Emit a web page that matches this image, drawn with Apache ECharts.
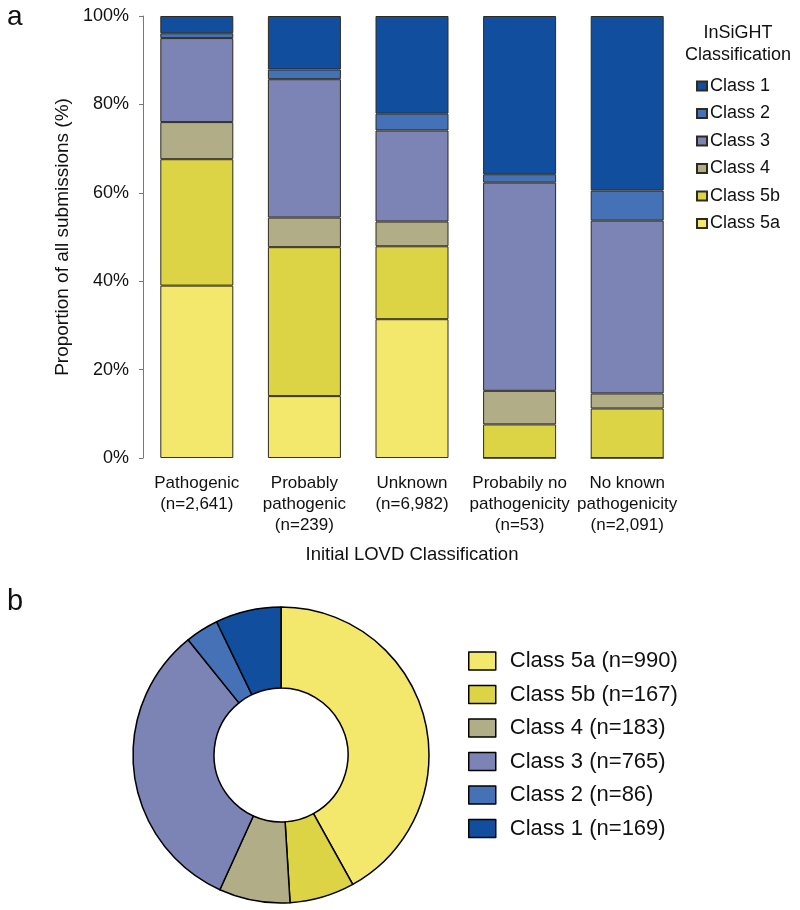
<!DOCTYPE html>
<html>
<head>
<meta charset="utf-8">
<script src="https://cdn.jsdelivr.net/npm/echarts@6/dist/echarts.min.js"></script>
<style>html,body{margin:0;padding:0;background:#fff}#c{width:800px;height:910px}</style>
</head>
<body>
<div id="c"></div>
<script>
var categories = ['Pathogenic\n(n=2,641)', 'Probably\npathogenic\n(n=239)', 'Unknown\n(n=6,982)', 'Probabily no\npathogenicity\n(n=53)', 'No known\npathogenicity\n(n=2,091)'];
var yTicks = [0, 20, 40, 60, 80, 100];
var class5a = [39.0, 14.0, 31.4, 0, 0];
var class5b = [28.6, 33.7, 16.5, 7.6, 11.2];
var class4  = [8.4, 6.7, 5.6, 7.6, 3.4];
var class3  = [19.0, 31.3, 20.6, 47.1, 39.1];
var class2  = [1.1, 2.2, 3.8, 1.9, 6.8];
var class1  = [3.9, 12.1, 22.1, 35.8, 39.5];
var seriesNames = ['Class 5a', 'Class 5b', 'Class 4', 'Class 3', 'Class 2', 'Class 1'];
var legendOrder = ['Class 1', 'Class 2', 'Class 3', 'Class 4', 'Class 5b', 'Class 5a'];
var pieClasses = ['Class 5a', 'Class 5b', 'Class 4', 'Class 3', 'Class 2', 'Class 1'];
var pieCounts = [990, 167, 183, 765, 86, 169];

var colors = {
  'Class 5a': '#f4e86c',
  'Class 5b': '#dcd444',
  'Class 4': '#b1ad87',
  'Class 3': '#7b84b5',
  'Class 2': '#4572b7',
  'Class 1': '#124e9e'
};
var FONT = '"Liberation Sans", Arial, Helvetica, sans-serif';
var barData = [class5a, class5b, class4, class3, class2, class1];

var series = seriesNames.map(function (n, i) {
  return {
    name: n, type: 'bar', stack: 'all', barWidth: 73,
    data: barData[i],
    itemStyle: { color: colors[n], borderColor: '#2e2a1e', borderWidth: 1 },
    emphasis: { disabled: true }
  };
});
var pieData = pieClasses.map(function (n, i) {
  return { name: n + ' (n=' + pieCounts[i] + ')', value: pieCounts[i], itemStyle: { color: colors[n] } };
});
series.push({
  type: 'pie', center: [281, 755], radius: [67, 148], startAngle: 90, clockwise: true,
  label: { show: false }, labelLine: { show: false }, silent: true,
  itemStyle: { borderColor: '#000', borderWidth: 1.5 },
  data: pieData
});

var chart = echarts.init(document.getElementById('c'), null, { renderer: 'canvas' });
chart.setOption({
  animation: false,
  textStyle: { fontFamily: FONT },
  grid: { left: 143, right: 119, top: 16, bottom: 452, containLabel: false },
  xAxis: {
    type: 'category', data: categories,
    axisLine: { show: false }, axisTick: { show: false },
    axisLabel: { color: '#111', fontSize: 17, lineHeight: 21, margin: 15, interval: 0, fontFamily: FONT },
    name: 'Initial LOVD Classification', nameLocation: 'middle', nameGap: 87,
    nameTextStyle: { color: '#111', fontSize: 18.5, fontFamily: FONT }
  },
  yAxis: {
    type: 'value', min: 0, max: 100, interval: 20,
    axisLine: { show: true, lineStyle: { color: '#777', width: 1 } },
    axisTick: { show: true, length: 4, lineStyle: { color: '#777' } },
    splitLine: { show: false },
    axisLabel: { color: '#111', fontSize: 18, margin: 14, fontFamily: FONT,
      formatter: function (v) { return yTicks.indexOf(v) >= 0 ? v + '%' : ''; } },
    name: 'Proportion of all submissions (%)', nameLocation: 'middle', nameGap: 64,
    nameTextStyle: { color: '#111', fontSize: 19, fontFamily: FONT }
  },
  legend: [
    {
      data: legendOrder, icon: 'rect',
      orient: 'vertical', left: 691, top: 72, itemWidth: 10, itemHeight: 9, itemGap: 9.5,
      selectedMode: false,
      textStyle: { color: '#111', fontSize: 18, fontFamily: FONT, padding: [0, 0, 0, -2] }
    },
    {
      data: pieData.map(function (d) { return d.name; }), icon: 'rect',
      orient: 'vertical', left: 463, top: 645, itemWidth: 27, itemHeight: 18, itemGap: 11.5,
      selectedMode: false,
      itemStyle: { borderColor: '#000', borderWidth: 1.5 },
      textStyle: { color: '#111', fontSize: 22, fontFamily: FONT, padding: [0, 0, 0, 9] }
    }
  ],
  graphic: [
    { type: 'text', left: 7, top: 3, style: { text: 'a', font: '28px ' + FONT, fill: '#111' } },
    { type: 'text', left: 7, top: 587, style: { text: 'b', font: '29px ' + FONT, fill: '#111' } },
    { type: 'text', x: 738, y: 22, style: { text: 'InSiGHT\nClassification', font: '18px ' + FONT, fill: '#111', align: 'center', verticalAlign: 'top', lineHeight: 22 } }
  ],
  series: series
});
</script>
</body>
</html>
